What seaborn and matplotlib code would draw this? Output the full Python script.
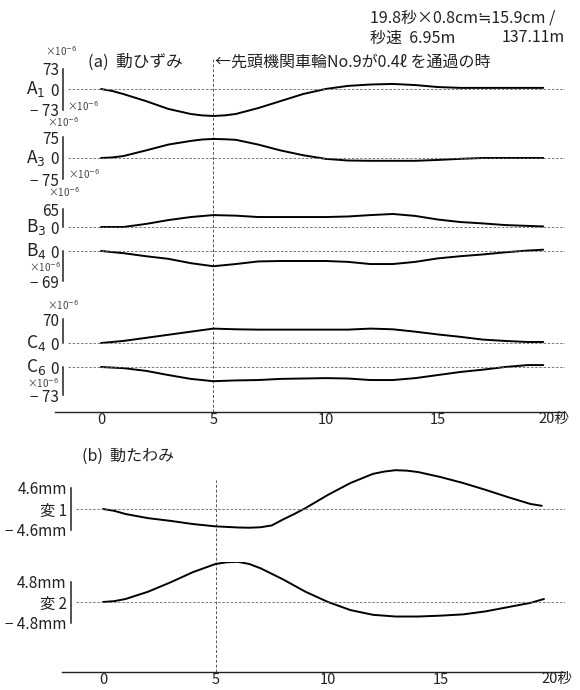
import numpy as np
import matplotlib
matplotlib.use("Agg")
import matplotlib.pyplot as plt
import matplotlib.transforms as mtransforms
import seaborn as sns

sns.set_theme(style="white")
plt.rcParams['font.family'] = ['Noto Sans CJK JP', 'DejaVu Sans']

W, H = 580, 690

# ---- data ----
# (a) dynamic strain, x10^-6
t_a1 = [0, 0.5, 1, 2, 3, 4, 4.5, 5, 5.5, 6, 7, 8, 9, 10, 11, 12, 13, 14, 15, 16, 17, 18, 19, 19.7]
A1 = [0, -7, -18, -43, -71, -89, -94, -96, -94, -89, -68, -43, -18, 0, 11, 16, 18, 14, 7, 4, 4, 4, 4, 4]
t_a3 = [0, 0.5, 1, 2, 3, 4, 4.5, 5, 5.5, 6, 7, 8, 9, 10, 11, 12, 13, 14, 15, 16, 17, 18, 19, 19.7]
A3 = [0, 2, 7, 27, 48, 61, 66, 68, 67, 65, 48, 27, 10, -3, -9, -10, -10, -10, -7, -3, 0, 0, 0, 0]
t_strain = [0, 1, 2, 3, 4, 5, 6, 7, 8, 9, 10, 11, 12, 13, 14, 15, 16, 17, 18, 19, 19.7]
B3 = [0, 0, 11, 25, 36, 43, 41, 36, 36, 36, 36, 38, 43, 47, 40, 27, 18, 13, 7, 4, 2]
B4 = [0, -5, -12, -18, -28, -35, -30, -24, -23, -23, -23, -25, -30, -30, -25, -17, -12, -8, -3, 1, 3]
C4 = [0, 6, 15, 24, 33, 42, 40, 39, 39, 39, 39, 39, 42, 40, 33, 25, 18, 10, 6, 3, 3]
C6 = [0, -3, -10, -21, -31, -37, -35, -34, -31, -30, -29, -30, -34, -34, -29, -21, -13, -7, 0, 5, 5]

# (b) dynamic deflection, mm
t_hen1 = [0, 0.5, 1, 2, 3, 4, 5, 6, 6.5, 7, 7.5, 8, 8.5, 9, 10, 11, 12, 12.5, 13, 13.5, 14, 15, 16,
          17, 18, 19, 19.5]
hen1 = [0, -0.4, -1.1, -2.0, -2.6, -3.3, -3.8, -4.05, -4.1, -4.0, -3.6, -2.3, -1.1, 0.2, 3.1, 5.7,
        7.7, 8.2, 8.5, 8.4, 8.1, 7.0, 5.7, 4.2, 2.6, 1.1, 0.7]
t_hen2 = [0, 0.5, 1, 2, 3, 4, 5, 5.5, 6, 6.5, 7, 8, 9, 10, 11, 12, 13, 14, 15, 16, 17, 18, 19, 19.6]
hen2 = [0, 0.2, 0.7, 2.4, 4.6, 7.0, 8.9, 9.3, 9.4, 8.9, 7.9, 5.3, 2.4, 0, -1.9, -3.0, -3.4, -3.4,
        -3.2, -2.9, -2.2, -1.2, -0.2, 0.7]

strain_names = ["A$_1$", "A$_3$", "B$_3$", "B$_4$", "C$_4$", "C$_6$"]
strain_ticks = [[73, 0, -73], [75, 0, -75], [65, 0], [0, -69], [70, 0], [0, -73]]
defl_names = ["変 1", "変 2"]
defl_ticks = [[4.6, 0, -4.6], [4.8, 0, -4.8]]

# ---- layout (pixels of the 580x690 scan) ----
strain_zero_px = [89, 158, 227, 251, 343, 367]
strain_px_per_tick = [20.5, 21, 18, 30, 24, 28]
defl_zero_px = [509, 602]
defl_px_per_tick = [21, 20.5]

fig = plt.figure(figsize=(W / 100, H / 100), dpi=100)
fig.patch.set_facecolor("white")


def fr(x0, y_top, x1, y_bot):
    return [x0 / W, 1 - y_bot / H, (x1 - x0) / W, (y_bot - y_top) / H]


def xlim_from(x0, x1, px0, pps):
    return ((x0 - px0) / pps, (x1 - px0) / pps)


def fmt(v, unit=""):
    s = f"{abs(v):g}{unit}"
    return ("− " + s) if v < 0 else s


def background(y_top, y_bot, x0, px0, pps):
    ax = fig.add_axes(fr(x0, y_top, 565, y_bot))
    ax.set_facecolor("none")
    ax.set_xlim(*xlim_from(x0, 565, px0, pps))
    ax.set_ylim(0, 1)
    for s in ["top", "right", "left"]:
        ax.spines[s].set_visible(False)
    ax.spines["bottom"].set_color("#222")
    ax.spines["bottom"].set_linewidth(1.0)
    ax.set_yticks([])
    ax.set_xticks(range(21))
    ax.set_xticklabels([str(i) if i % 5 == 0 and i < 20 else "" for i in range(21)])
    ax.tick_params(axis="x", direction="in", length=5, width=0.7, color="#333",
                   labelsize=10.5, pad=1, labelcolor="#222")
    tr = mtransforms.blended_transform_factory(ax.transData, ax.transAxes)
    ax.text(19.5, 0, "20秒", transform=tr, ha="left", va="top", fontsize=10.5, color="#222")
    ax.axvline(5, color="#555", lw=0.7, ls=(0, (3, 2)))
    return ax


def trace(t, y, zero_px, tick_px, ticks, labels, name, x0, px0, pps, half=40):
    scale = max(abs(v) for v in ticks) / tick_px
    ax = fig.add_axes(fr(x0, zero_px - half, 565, zero_px + half))
    ax.set_facecolor("none")
    sns.lineplot(x=t, y=y, ax=ax, color="black", lw=1.4)
    ax.set_xlim(*xlim_from(x0, 565, px0, pps))
    ax.set_ylim(-half * scale, half * scale)
    ax.axhline(0, xmin=0.01, color="#666", lw=0.6, ls=(0, (3, 2)))
    for s in ["top", "right", "bottom"]:
        ax.spines[s].set_visible(False)
    ax.spines["left"].set_bounds(min(ticks), max(ticks))
    ax.spines["left"].set_color("#222")
    ax.spines["left"].set_linewidth(1.1)
    ax.set_xticks([])
    ax.set_yticks(ticks)
    ax.set_yticklabels(labels)
    ax.tick_params(axis="y", direction="in", length=4, width=0.7, labelsize=11, pad=3,
                   labelcolor="#222")
    ax.set_xlabel("")
    ax.set_ylabel("")
    if name:
        tr = mtransforms.blended_transform_factory(fig.transFigure, ax.transData)
        ax.text(26 / W, 0, name, transform=tr, ha="left", va="center", fontsize=12.5, color="#222")
    return ax


# panel (a)
background(58, 412, 55, 101, 22.45)
strain_t = [t_a1, t_a3, t_strain, t_strain, t_strain, t_strain]
strain_vals = [A1, A3, B3, B4, C4, C6]
for i in range(len(strain_names)):
    tk = strain_ticks[i]
    trace(strain_t[i], strain_vals[i], strain_zero_px[i], strain_px_per_tick[i], tk,
          [fmt(v) for v in tk], strain_names[i], 63, 101, 22.45)

# panel (b)
background(480, 672, 62, 103, 22.5)
for i in range(len(defl_names)):
    tk = defl_ticks[i]
    labs = [fmt(v, "mm") if v != 0 else defl_names[i] for v in tk]
    trace([t_hen1, t_hen2][i], [hen1, hen2][i], defl_zero_px[i], defl_px_per_tick[i], tk, labs,
          None, 71, 103, 22.5)

# the small x10^-6 unit marks
for (px, py) in [(45, 51), (67, 106), (47, 122), (68, 174), (48, 192), (29, 267), (47, 305), (27, 383)]:
    fig.text(px / W, 1 - py / H, "×10$^{-6}$", fontsize=7, color="#444", ha="left", va="center")

# header texts
fig.text(370 / W, 1 - 18 / H, "19.8秒×0.8cm≒15.9cm /", fontsize=11.5, color="#222", va="center")
fig.text(370 / W, 1 - 38 / H, "秒速  6.95m", fontsize=11.5, color="#222", va="center")
fig.text(565 / W, 1 - 38 / H, "137.11m", fontsize=11.5, color="#222", va="center", ha="right")
fig.text(88 / W, 1 - 62 / H, "(a)  動ひずみ", fontsize=12, color="#222", va="center")
fig.text(215 / W, 1 - 62 / H, "←先頭機関車輪No.9が0.4ℓ を通過の時", fontsize=11.5, color="#222", va="center")
fig.text(82 / W, 1 - 456 / H, "(b)  動たわみ", fontsize=11.5, color="#222", va="center")

fig.savefig("out.png", dpi=100, facecolor="white")
